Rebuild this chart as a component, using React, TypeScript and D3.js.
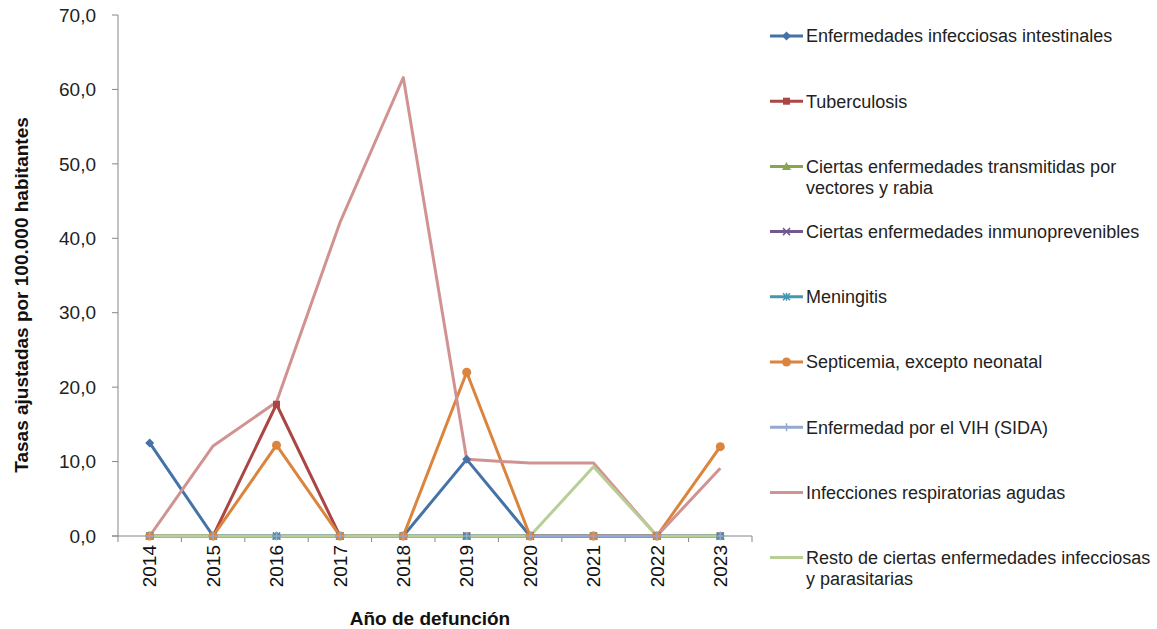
import React from "react";
import * as d3 from "d3";

const years = ["2014", "2015", "2016", "2017", "2018", "2019", "2020", "2021", "2022", "2023"];
const yTicks = [0, 10, 20, 30, 40, 50, 60, 70];

const intestinales = [12.5, 0, 0, 0, 0, 10.3, 0, 0, 0, 0];
const tuberculosis = [0, 0, 17.7, 0, 0, 0, 0, 0, 0, 0];
const vectores = [0, 0, 0, 0, 0, 0, 0, 0, 0, 0];
const inmunoprevenibles = [0, 0, 0, 0, 0, 0, 0, 0, 0, 0];
const meningitis = [0, 0, 0, 0, 0, 0, 0, 0, 0, 0];
const septicemia = [0, 0, 12.2, 0, 0, 22.0, 0, 0, 0, 12.0];
const vih = [0, 0, 0, 0, 0, 0, 0, 0, 0, 0];
const respiratorias = [0, 12.1, 18.0, 42.1, 61.6, 10.3, 9.8, 9.8, 0, 9.1];
const resto = [0, 0, 0, 0, 0, 0, 0, 9.3, 0, 0];

type Marker = "diamond" | "square" | "triangle" | "x" | "star" | "circle" | "plus" | "none";
const series: { name: string[]; values: number[]; color: string; marker: Marker }[] = [
  { name: ["Enfermedades infecciosas intestinales"], values: intestinales, color: "#4572A7", marker: "diamond" },
  { name: ["Tuberculosis"], values: tuberculosis, color: "#AA4643", marker: "square" },
  { name: ["Ciertas enfermedades transmitidas por", "vectores y rabia"], values: vectores, color: "#89A54E", marker: "triangle" },
  { name: ["Ciertas enfermedades inmunoprevenibles"], values: inmunoprevenibles, color: "#71588F", marker: "x" },
  { name: ["Meningitis"], values: meningitis, color: "#4198AF", marker: "star" },
  { name: ["Septicemia, excepto neonatal"], values: septicemia, color: "#DB843D", marker: "circle" },
  { name: ["Enfermedad por el VIH (SIDA)"], values: vih, color: "#93A9CF", marker: "plus" },
  { name: ["Infecciones respiratorias agudas"], values: respiratorias, color: "#D19392", marker: "none" },
  { name: ["Resto de ciertas enfermedades infecciosas", "y parasitarias"], values: resto, color: "#B9CD96", marker: "none" },
];

function MarkerShape({ type, x, y, color }: { type: Marker; x: number; y: number; color: string }) {
  switch (type) {
    case "diamond":
      return <path d={`M${x},${y - 4.5}L${x + 4.5},${y}L${x},${y + 4.5}L${x - 4.5},${y}Z`} fill={color} />;
    case "square":
      return <rect x={x - 3.5} y={y - 3.5} width={7} height={7} fill={color} />;
    case "triangle":
      return <path d={`M${x},${y - 4.5}L${x + 4.5},${y + 3.5}L${x - 4.5},${y + 3.5}Z`} fill={color} />;
    case "x":
      return <path d={`M${x - 3.5},${y - 3.5}L${x + 3.5},${y + 3.5}M${x - 3.5},${y + 3.5}L${x + 3.5},${y - 3.5}`} stroke={color} strokeWidth={1.5} />;
    case "star":
      return <path d={`M${x - 3.5},${y - 3.5}L${x + 3.5},${y + 3.5}M${x - 3.5},${y + 3.5}L${x + 3.5},${y - 3.5}M${x},${y - 4}L${x},${y + 4}`} stroke={color} strokeWidth={1.5} />;
    case "circle":
      return <circle cx={x} cy={y} r={4.5} fill={color} />;
    case "plus":
      return <path d={`M${x - 4},${y}L${x + 4},${y}M${x},${y - 4}L${x},${y + 4}`} stroke={color} strokeWidth={1.5} />;
    default:
      return null;
  }
}

export default function App() {
  const width = 1157;
  const height = 629;
  const left = 118;
  const right = 752;
  const top = 15;
  const bottom = 536;

  const x = d3.scaleBand<string>().domain(years).range([left, right]);
  const y = d3.scaleLinear().domain([0, 70]).range([bottom, top]);
  const cx = (yr: string) => (x(yr) as number) + x.bandwidth() / 2;

  const line = d3
    .line<number>()
    .x((_, i) => cx(years[i]))
    .y((d) => y(d));

  const axisColor = "#868686";
  const font = "'Liberation Sans', Arial, sans-serif";

  const legendX = 770;
  const legendY0 = 36;
  const legendStep = 65.2;

  return (
    <div style={{ position: "fixed", left: 0, top: 0, width, height, overflow: "hidden", background: "#fff" }}>
      <svg width={width} height={height} style={{ display: "block", background: "#fff" }} fontFamily={font}>
        {/* y axis */}
        <line x1={left} x2={left} y1={top} y2={bottom} stroke={axisColor} strokeWidth={1} />
        {yTicks.map((t) => (
          <g key={t}>
            <line x1={left - 6} x2={left} y1={y(t)} y2={y(t)} stroke={axisColor} />
            <text x={96} y={y(t)} dy="0.35em" textAnchor="end" fontSize={19} fill="#222">
              {t.toFixed(1).replace(".", ",")}
            </text>
          </g>
        ))}
        {/* x axis */}
        <line x1={left - 6} x2={right} y1={bottom} y2={bottom} stroke={axisColor} />
        {years.map((yr) => (
          <line key={yr} x1={(x(yr) as number) + x.bandwidth()} x2={(x(yr) as number) + x.bandwidth()} y1={bottom} y2={bottom + 6} stroke={axisColor} />
        ))}
        <line x1={left} x2={left} y1={bottom} y2={bottom + 6} stroke={axisColor} />
        {years.map((yr) => (
          <text
            key={yr}
            transform={`translate(${cx(yr)},${545}) rotate(-90)`}
            textAnchor="end"
            dy="0.35em"
            fontSize={19}
            fill="#111"
          >
            {yr}
          </text>
        ))}
        <text x={430} y={625} textAnchor="middle" fontSize={19} fontWeight="bold" fill="#111">
          Año de defunción
        </text>
        <text
          transform={`translate(21,${295}) rotate(-90)`}
          textAnchor="middle"
          fontSize={19}
          fontWeight="bold"
          fill="#111"
          dy="0.35em"
        >
          Tasas ajustadas por 100.000 habitantes
        </text>

        {/* lines */}
        {series.map((s, si) => (
          <path key={si} d={line(s.values) as string} fill="none" stroke={s.color} strokeWidth={3} strokeLinejoin="round" />
        ))}
        {series.map((s, si) => (
          <g key={si}>
            {s.values.map((v, i) => (
              <MarkerShape key={i} type={s.marker} x={cx(years[i])} y={y(v)} color={s.color} />
            ))}
          </g>
        ))}

        {/* legend */}
        {series.map((s, si) => {
          const ly = legendY0 + si * legendStep;
          return (
            <g key={si}>
              <line x1={legendX} x2={legendX + 33} y1={ly} y2={ly} stroke={s.color} strokeWidth={3} />
              <MarkerShape type={s.marker} x={legendX + 16.5} y={ly} color={s.color} />
              {s.name.map((n, k) => (
                <text key={k} x={legendX + 36} y={ly + k * 21} dy="0.35em" fontSize={18} fill="#222">
                  {n}
                </text>
              ))}
            </g>
          );
        })}
      </svg>
    </div>
  );
}
